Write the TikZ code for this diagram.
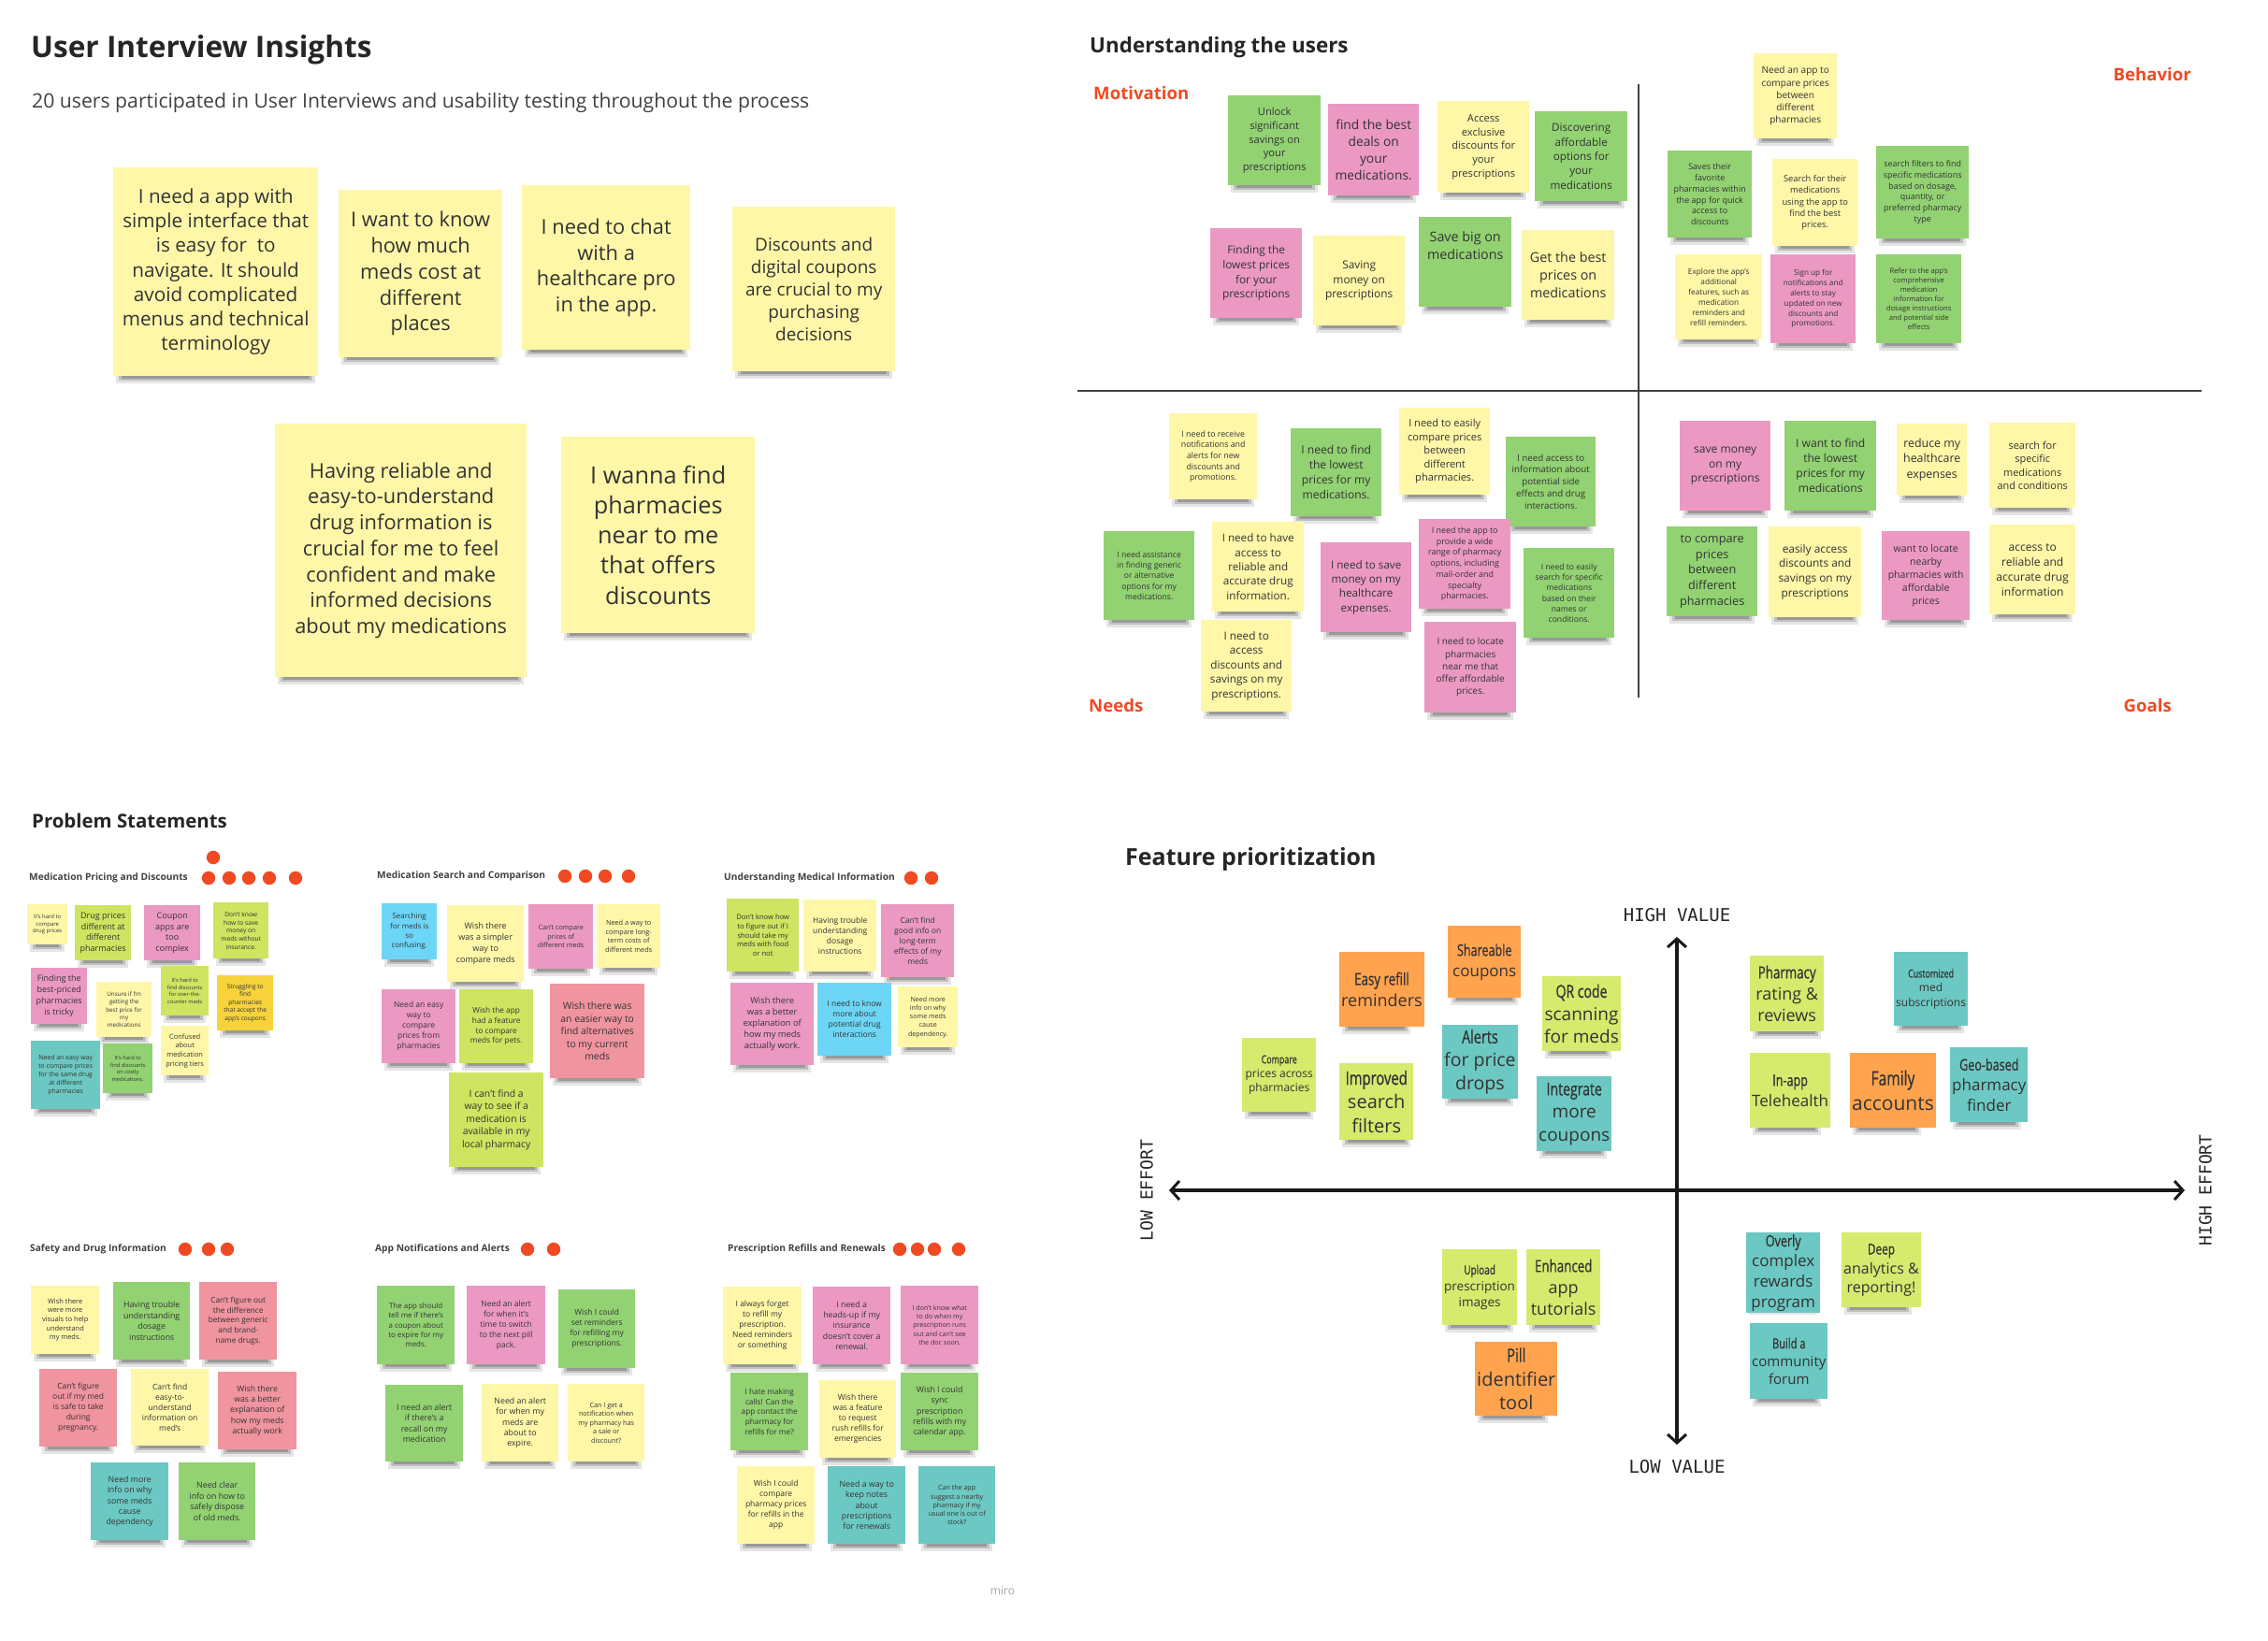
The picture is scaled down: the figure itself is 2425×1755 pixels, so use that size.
\documentclass[tikz,border=0pt]{standalone}
\usepackage{fontspec}
\setmainfont{Open Sans}
\newfontfamily\condf[FakeStretch=0.74,FakeBold=0.7]{Open Sans}
\newfontfamily\axf{DejaVu Sans Mono}
\usetikzlibrary{arrows.meta}
\definecolor{yel}{HTML}{FFF7A8}
\definecolor{grn}{HTML}{92D272}
\definecolor{pnk}{HTML}{EB99C3}
\definecolor{lime}{HTML}{CFE460}
\definecolor{flime}{HTML}{D6EA6E}
\definecolor{teal}{HTML}{6CC8C2}
\definecolor{blue}{HTML}{6DD6F7}
\definecolor{sal}{HTML}{F0949F}
\definecolor{org}{HTML}{FFA34F}
\definecolor{dyel}{HTML}{F7D23A}
\definecolor{redl}{HTML}{F04A23}
\definecolor{ink}{HTML}{333333}
\tikzset{
  sticky/.style={draw=none,inner sep=2pt,align=center,text=ink},
  lab/.style={inner sep=0pt,text=ink},
  dotc/.style={fill=redl},
  axisline/.style={line width=4pt,black!90,{Straight Barb[length=9pt,width=20pt,line width=3pt]}-{Straight Barb[length=9pt,width=20pt,line width=3pt]}},
  quad/.style={line width=1.5pt,black!75}
}
\newcommand\fsc{1}
\newcommand\lsf{1.32}
\newcommand\st[8]{%
  \pgfmathsetmacro\stfs{#7*\fsc}%
  \pgfmathsetmacro\stbls{#7*\fsc*\lsf}%
  \fill[black,opacity=0.10] (#2+3,#3+#5-4) rectangle (#2+#4-3,#3+#5+8);
  \fill[black,opacity=0.16] (#2+6,#3+#5-3) rectangle (#2+#4-6,#3+#5+5);
  \fill[black,opacity=0.20] (#2+9,#3+#5-2) rectangle (#2+#4-9,#3+#5+3);
  \node[sticky,fill=#6,minimum width=#4,minimum height=#5,anchor=north west,font=\fontsize{\stfs}{\stbls}\selectfont] (#1) at (#2,#3) {#8};
}
\newcommand\fst[8]{\st{#1}{#2}{#3}{#4}{#5}{#6}{#7}{\condf #8}}
\begin{document}
\begin{tikzpicture}[x=1pt,y=-1pt]
\fill[white] (0,0) rectangle (2425,1755);
\useasboundingbox (0,0) rectangle (2425,1755);

% ---------------- User Interview Insights
\node[lab,anchor=base west,font=\fontsize{31.6}{36}\selectfont\bfseries,text=black!85] (t1) at (33,62) {User Interview Insights};
\node[lab,anchor=base west,font=\fontsize{21.2}{24}\selectfont,text=black!75] (t1s) at (34,116) {20 users participated in User Interviews and usability testing throughout the process};
\renewcommand\fsc{1.15}\renewcommand\lsf{1.27}
\st{ui1}{121}{179}{219}{223}{yel}{18}{I need a app with\\simple interface that\\is easy for~ to\\navigate. It should\\avoid complicated\\menus and technical\\terminology}
\st{ui2}{362}{203}{175}{179}{yel}{19}{I want to know\\how much\\meds cost at\\different\\places}
\st{ui3}{558}{198}{180}{176}{yel}{19}{I need to chat\\with a\\healthcare pro\\in the app.}
\st{ui4}{783}{221}{174}{176}{yel}{16.5}{Discounts and\\digital coupons\\are crucial to my\\purchasing\\decisions}
\st{ui5}{294}{453}{269}{271}{yel}{19}{Having reliable and\\easy-to-understand\\drug information is\\crucial for me to feel\\confident and make\\informed decisions\\about my medications}
\st{ui6}{600}{467}{207}{210}{yel}{22}{I wanna find\\pharmacies\\near to me\\that offers\\discounts}

% ---------------- Understanding the users
\node[lab,anchor=base west,font=\fontsize{22.4}{26}\selectfont\bfseries,text=black!85] (t2) at (1165,57) {Understanding the users};
\coordinate (qvt) at (1752,90); \coordinate (qvb) at (1752,746);
\coordinate (qhl) at (1152,418); \coordinate (qhr) at (2354,418);
\draw[quad] (qvt) -- (qvb);
\draw[quad] (qhl) -- (qhr);
\node[lab,anchor=base west,font=\fontsize{18.6}{22}\selectfont\bfseries,text=redl] (lmot) at (1169,107) {Motivation};
\node[lab,anchor=base east,font=\fontsize{18.6}{22}\selectfont\bfseries,text=redl] (lbeh) at (2343,87) {Behavior};
\node[lab,anchor=base west,font=\fontsize{18.6}{22}\selectfont\bfseries,text=redl] (lnee) at (1164,761) {Needs};
\node[lab,anchor=base east,font=\fontsize{18.6}{22}\selectfont\bfseries,text=redl] (lgoa) at (2322,761) {Goals};

\renewcommand\fsc{1.06}\renewcommand\lsf{1.32}
\st{m1}{1313}{102}{99}{96}{grn}{10.5}{Unlock\\significant\\savings on\\your\\prescriptions}
\st{m2}{1420}{111}{97}{98}{pnk}{13}{find the best\\deals on\\your\\medications.}
\st{m3}{1537}{108}{98}{98}{yel}{10.5}{Access\\exclusive\\discounts for\\your\\prescriptions}
\st{m4}{1641}{119}{99}{96}{grn}{11}{Discovering\\affordable\\options for\\your\\medications}
\st{m5}{1294}{244}{98}{96}{pnk}{11.2}{Finding the\\lowest prices\\for your\\prescriptions}
\st{m6}{1404}{252}{98}{96}{yel}{11.2}{Saving\\money on\\prescriptions}
\st{m7}{1517}{232}{99}{96}{grn}{13.5}{Save big on\\medications\\[1.2em]}
\st{m8}{1627}{246}{99}{96}{yel}{13.5}{Get the best\\prices on\\medications}

\st{b1}{1875}{57}{89}{91}{yel}{9.5}{Need an app to\\compare prices\\between\\different\\pharmacies}
\st{b2}{1783}{161}{90}{93}{grn}{8.5}{Saves their\\favorite\\pharmacies within\\the app for quick\\access to\\discounts}
\st{b3}{1895}{170}{91}{93}{yel}{8.8}{Search for their\\medications\\using the app to\\find the best\\prices.}
\st{b4}{2006}{156}{99}{99}{grn}{8.4}{search filters to find\\specific medications\\based on dosage,\\quantity, or\\preferred pharmacy\\type}
\st{b5}{1791}{272}{93}{91}{yel}{7.8}{Explore the app's\\additional\\features, such as\\medication\\reminders and\\refill reminders.}
\st{b6}{1893}{272}{91}{95}{pnk}{7.7}{Sign up for\\notifications and\\alerts to stay\\updated on new\\discounts and\\promotions.}
\st{b7}{2006}{272}{91}{95}{grn}{7.2}{Refer to the app's\\comprehensive\\medication\\information for\\dosage instructions\\and potential side\\effects}

\st{n1}{1250}{442}{94}{92}{yel}{8.3}{I need to receive\\notifications and\\alerts for new\\discounts and\\promotions.}
\st{n2}{1380}{458}{97}{94}{grn}{11.4}{I need to find\\the lowest\\prices for my\\medications.}
\st{n3}{1496}{436}{97}{93}{yel}{10.4}{I need to easily\\compare prices\\between\\different\\pharmacies.}
\st{n4}{1610}{467}{96}{96}{grn}{9.2}{I need access to\\information about\\potential side\\effects and drug\\interactions.}
\st{n5}{1180}{568}{97}{95}{grn}{8.1}{I need assistance\\in finding generic\\or alternative\\options for my\\medications.}
\st{n6}{1296}{558}{98}{96}{yel}{11}{I need to have\\access to\\reliable and\\accurate drug\\information.}
\st{n7}{1412}{580}{97}{96}{pnk}{11}{I need to save\\money on my\\healthcare\\expenses.}
\st{n8}{1517}{555}{98}{96}{pnk}{8.4}{I need the app to\\provide a wide\\range of pharmacy\\options, including\\mail-order and\\specialty\\pharmacies.}
\st{n9}{1629}{586}{97}{96}{grn}{8.1}{I need to easily\\search for specific\\medications\\based on their\\names or\\conditions.}
\st{n10}{1284}{663}{97}{98}{yel}{11.1}{I need to\\access\\discounts and\\savings on my\\prescriptions.}
\st{n11}{1523}{665}{98}{97}{pnk}{9.4}{I need to locate\\pharmacies\\near me that\\offer affordable\\prices.}

\st{g1}{1796}{450}{97}{96}{pnk}{11.4}{save money\\on my\\prescriptions}
\st{g2}{1908}{450}{98}{96}{grn}{11.4}{I want to find\\the lowest\\prices for my\\medications}
\st{g3}{2028}{453}{75}{77}{yel}{11.7}{reduce my\\healthcare\\expenses}
\st{g4}{2127}{452}{92}{91}{yel}{10.3}{search for\\specific\\medications\\and conditions}
\st{g5}{1782}{563}{97}{96}{grn}{12}{to compare\\prices\\between\\different\\pharmacies}
\st{g6}{1891}{563}{99}{97}{yel}{11.2}{easily access\\discounts and\\savings on my\\prescriptions}
\st{g7}{2012}{568}{94}{95}{pnk}{9.9}{want to locate\\nearby\\pharmacies with\\affordable\\prices}
\st{g8}{2127}{561}{92}{96}{yel}{11.4}{access to\\reliable and\\accurate drug\\information}

% ---------------- Problem Statements
\node[lab,anchor=base west,font=\fontsize{20.4}{24}\selectfont\bfseries,text=black!85] (t3) at (34,885) {Problem Statements};
\tikzset{glab/.style={lab,anchor=west,font=\fontsize{10.2}{12}\selectfont\bfseries,text=black!75}}
\node[glab] (pg1) at (31,939) {Medication Pricing and Discounts};
\node[glab] (pg2) at (403,937) {Medication Search and Comparison};
\node[glab] (pg3) at (774,939) {Understanding Medical Information};
\node[glab] (pg4) at (32,1336) {Safety and Drug Information};
\node[glab] (pg5) at (401,1336) {App Notifications and Alerts};
\node[glab] (pg6) at (778,1336) {Prescription Refills and Renewals};
\foreach \x/\y in {228/917,223/939,245/939,266/939,288/939,316/939,
  604/937,626/937,647/937,672/937, 974/939,996/939,
  198/1336,223/1336,243/1336, 564/1336,592/1336,
  962/1336,981/1336,999/1336,1025/1336}
  \fill[dotc] (\x,\y) circle (7.2);

\renewcommand\fsc{1.06}\renewcommand\lsf{1.3}
\st{p1a}{29}{967}{43}{43}{yel}{5.6}{It's hard to\\compare\\drug prices}
\st{p1b}{80}{968}{60}{59}{lime}{8.5}{Drug prices\\different at\\different\\pharmacies}
\st{p1c}{154}{968}{60}{59}{pnk}{8.5}{Coupon\\apps are\\too\\complex}
\st{p1d}{228}{965}{59}{60}{lime}{6.3}{Don't know\\how to save\\money on\\meds without\\insurance.}
\st{p1e}{33}{1035}{60}{60}{pnk}{8.5}{Finding the\\best-priced\\pharmacies\\is tricky}
\st{p1f}{103}{1050}{59}{59}{yel}{5.9}{Unsure if I'm\\getting the\\best price for\\my\\medications}
\st{p1g}{172}{1033}{51}{53}{lime}{5.4}{It's hard to\\find discounts\\for over-the-\\counter meds}
\st{p1h}{232}{1043}{60}{59}{dyel}{6.2}{Struggling to\\find\\pharmacies\\that accept the\\app's coupons}
\st{p1i}{33}{1113}{74}{73}{teal}{6.5}{Need an easy way\\to compare prices\\for the same drug\\at different\\pharmacies}
\st{p1j}{110}{1116}{53}{53}{grn}{5.4}{It's hard to\\find discounts\\on costly\\medications.}
\st{p1k}{172}{1097}{51}{53}{yel}{7}{Confused\\about\\medication\\pricing tiers}

\st{p2a}{408}{966}{59}{60}{blue}{7.5}{Searching\\for meds is\\so\\confusing.}
\st{p2b}{478}{968}{82}{82}{yel}{8.5}{Wish there\\was a simpler\\way to\\compare meds}
\st{p2c}{565}{967}{69}{69}{pnk}{6.8}{Can't compare\\prices of\\different meds}
\st{p2d}{638}{967}{68}{68}{yel}{6.9}{Need a way to\\compare long-\\term costs of\\different meds}
\st{p2e}{408}{1058}{79}{79}{pnk}{8}{Need an easy\\way to\\compare\\prices from\\pharmacies}
\st{p2f}{491}{1058}{79}{79}{lime}{7.8}{Wish the app\\had a feature\\to compare\\meds for pets.}
\st{p2g}{588}{1052}{101}{101}{sal}{9.8}{Wish there was\\an easier way to\\find alternatives\\to my current\\meds}
\st{p2h}{480}{1147}{101}{101}{lime}{9.8}{I can't find a\\way to see if a\\medication is\\available in my\\local pharmacy}

\st{p3a}{777}{961}{77}{78}{lime}{7.2}{Don't know how\\to figure out if I\\should take my\\meds with food\\or not}
\st{p3b}{859}{962}{78}{77}{yel}{8}{Having trouble\\understanding\\dosage\\instructions}
\st{p3c}{942}{967}{78}{78}{pnk}{8}{Can't find\\good info on\\long-term\\effects of my\\meds}
\st{p3d}{781}{1051}{89}{88}{pnk}{8.8}{Wish there\\was a better\\explanation of\\how my meds\\actually work.}
\st{p3e}{874}{1051}{79}{78}{blue}{8}{I need to know\\more about\\potential drug\\interactions}
\st{p3f}{960}{1055}{64}{65}{yel}{6.7}{Need more\\info on why\\some meds\\cause\\dependency.}

\st{p4a}{33}{1375}{73}{73}{yel}{7}{Wish there\\were more\\visuals to help\\understand\\my meds.}
\st{p4b}{121}{1371}{82}{83}{grn}{8.3}{Having trouble\\understanding\\dosage\\instructions}
\st{p4c}{213}{1371}{83}{83}{sal}{7.8}{Can't figure out\\the difference\\between generic\\and brand-\\name drugs.}
\st{p4d}{42}{1464}{83}{83}{sal}{8}{Can't figure\\out if my med\\is safe to take\\during\\pregnancy.}
\st{p4e}{140}{1464}{83}{82}{yel}{8}{Can't find\\easy-to-\\understand\\information on\\med's}
\st{p4f}{233}{1467}{84}{83}{sal}{8.2}{Wish there\\was a better\\explanation of\\how my meds\\actually work}
\st{p4g}{97}{1564}{83}{83}{teal}{8.3}{Need more\\info on why\\some meds\\cause\\dependency}
\st{p4h}{191}{1564}{82}{83}{grn}{8.3}{Need clear\\info on how to\\safely dispose\\of old meds.}

\st{p5a}{403}{1375}{83}{84}{grn}{7.5}{The app should\\tell me if there's\\a coupon about\\to expire for my\\meds.}
\st{p5b}{499}{1375}{84}{84}{pnk}{8}{Need an alert\\for when it's\\time to switch\\to the next pill\\pack.}
\st{p5c}{597}{1379}{82}{84}{grn}{8}{Wish I could\\set reminders\\for refilling my\\prescriptions.}
\st{p5d}{412}{1481}{83}{82}{grn}{8.3}{I need an alert\\if there's a\\recall on my\\medication}
\st{p5e}{515}{1480}{82}{83}{yel}{8.3}{Need an alert\\for when my\\meds are\\about to\\expire.}
\st{p5f}{607}{1480}{82}{83}{yel}{6.8}{Can I get a\\notification when\\my pharmacy has\\a sale or\\discount?}

\st{p6a}{773}{1376}{84}{83}{yel}{8}{I always forget\\to refill my\\prescription.\\Need reminders\\or something}
\st{p6b}{869}{1376}{83}{83}{pnk}{8.3}{I need a\\heads-up if my\\insurance\\doesn't cover a\\renewal.}
\st{p6c}{963}{1375}{83}{84}{pnk}{6.7}{I don't know what\\to do when my\\prescription runs\\out and can't see\\the doc soon.}
\st{p6d}{781}{1468}{83}{83}{grn}{7.8}{I hate making\\calls! Can the\\app contact the\\pharmacy for\\refills for me?}
\st{p6e}{876}{1476}{82}{83}{yel}{8}{Wish there\\was a feature\\to request\\rush refills for\\emergencies}
\st{p6f}{963}{1468}{83}{83}{grn}{8.3}{Wish I could\\sync\\prescription\\refills with my\\calendar app.}
\st{p6g}{788}{1568}{83}{83}{yel}{8}{Wish I could\\compare\\pharmacy prices\\for refills in the\\app}
\st{p6h}{885}{1568}{83}{83}{teal}{8.3}{Need a way to\\keep notes\\about\\prescriptions\\for renewals}
\st{p6i}{982}{1568}{82}{83}{teal}{6.7}{Can the app\\suggest a nearby\\pharmacy if my\\usual one is out of\\stock?}

\node[lab,font=\fontsize{12}{14}\selectfont,text=black!35] (miro) at (1072,1701) {miro};

% ---------------- Feature prioritization
\node[lab,anchor=base west,font=\fontsize{25}{30}\selectfont\bfseries,text=black!85] (t4) at (1203,925) {Feature prioritization};
\coordinate (vt) at (1793,1002); \coordinate (vb) at (1793,1545);
\coordinate (hl) at (1250,1273); \coordinate (hr) at (2336,1273);
\draw[axisline] (vb) -- (vt);
\draw[axisline] (hl) -- (hr);
\node[lab,font=\axf\fontsize{19}{22}\selectfont,text=black!85] (hv) at (1793,979) {HIGH VALUE};
\node[lab,font=\axf\fontsize{19}{22}\selectfont,text=black!85] (lv) at (1793,1569) {LOW VALUE};
\node[lab,rotate=90,font=\axf\fontsize{18}{22}\selectfont,text=black!85] (le) at (1226,1273) {LOW EFFORT};
\node[lab,rotate=90,font=\axf\fontsize{18}{22}\selectfont,text=black!85] (he) at (2358,1273) {HIGH EFFORT};

\renewcommand\fsc{1}\renewcommand\lsf{1.28}
\fst{f1}{1432}{1018}{79}{80}{org}{18}{Easy refill\\reminders}
\fst{f2}{1548}{990}{78}{77}{org}{17}{Shareable\\coupons}
\fst{f3}{1649}{1044}{77}{80}{flime}{19}{QR code\\scanning\\for meds}
\fst{f4}{1328}{1110}{79}{79}{flime}{12}{Compare\\prices across\\pharmacies}
\fst{f5}{1432}{1137}{79}{82}{flime}{20}{Improved\\search\\filters}
\fst{f6}{1542}{1096}{79}{79}{teal}{19.5}{Alerts\\for price\\drops}
\fst{f7}{1643}{1151}{78}{80}{teal}{19}{Integrate\\more\\coupons}
\fst{f8}{1871}{1022}{79}{81}{flime}{18}{Pharmacy\\rating \&\\reviews}
\fst{f9}{2025}{1018}{78}{79}{teal}{12}{Customized\\med\\subscriptions}
\fst{f10}{1871}{1126}{79}{80}{flime}{17}{In-app\\Telehealth}
\fst{f11}{1978}{1126}{79}{80}{org}{21}{Family\\accounts}
\fst{f12}{2085}{1120}{79}{80}{teal}{17}{Geo-based\\pharmacy\\finder}
\fst{f13}{1542}{1336}{79}{81}{flime}{13.5}{Upload\\prescription\\images}
\fst{f14}{1632}{1336}{79}{81}{flime}{18}{Enhanced\\app\\tutorials}
\fst{f15}{1577}{1435}{81}{79}{org}{20}{Pill\\identifier\\tool}
\fst{f16}{1867}{1318}{79}{80}{teal}{17}{Overly\\complex\\rewards\\program}
\fst{f17}{1969}{1318}{78}{80}{flime}{16}{Deep\\analytics \&\\reporting!}
\fst{f18}{1871}{1415}{79}{81}{teal}{15}{Build a\\community\\forum}
\end{tikzpicture}
\end{document}
